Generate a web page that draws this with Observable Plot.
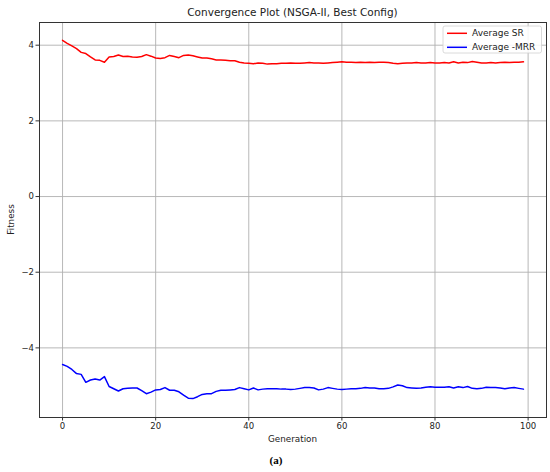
<!DOCTYPE html>
<html>
<head>
<meta charset="utf-8">
<script src="https://cdn.jsdelivr.net/npm/d3@7"></script>
<script src="https://cdn.jsdelivr.net/npm/@observablehq/plot@0.6"></script>
<style>
  html, body { margin: 0; padding: 0; background: #fff; }
  #chart { width: 550px; height: 472px; }
  svg text { font-family: "DejaVu Sans", sans-serif; }
</style>
</head>
<body>
<div id="chart"></div>
<script>
const titleText = "Convergence Plot (NSGA-II, Best Config)";
const xLabel = "Generation";
const yLabel = "Fitness";
const caption = "(a)";
const seriesNames = ["Average SR", "Average -MRR"];
const seriesColors = ["#ff0000", "#0000ff"];
const xTicks = [0, 20, 40, 60, 80, 100];
const yTicks = [-4, -2, 0, 2, 4];

const generations = Array.from({length: 100}, (_, i) => i);

const averageSR = [
  4.13, 4.05, 3.98, 3.91, 3.81, 3.78, 3.69, 3.61, 3.60, 3.55,
  3.69, 3.70, 3.74, 3.70, 3.71, 3.69, 3.68, 3.70, 3.75, 3.71,
  3.66, 3.65, 3.67, 3.73, 3.70, 3.67, 3.73, 3.74, 3.72, 3.69,
  3.66, 3.66, 3.64, 3.61, 3.61, 3.60, 3.59, 3.59, 3.55, 3.53,
  3.52, 3.51, 3.53, 3.52, 3.50, 3.51, 3.51, 3.52, 3.52, 3.53,
  3.52, 3.52, 3.53, 3.54, 3.53, 3.53, 3.52, 3.53, 3.54, 3.55,
  3.56, 3.55, 3.55, 3.54, 3.55, 3.54, 3.55, 3.54, 3.55, 3.55,
  3.54, 3.52, 3.51, 3.52, 3.53, 3.53, 3.54, 3.53, 3.53, 3.54,
  3.53, 3.53, 3.54, 3.53, 3.56, 3.53, 3.55, 3.54, 3.57, 3.55,
  3.53, 3.53, 3.54, 3.53, 3.54, 3.55, 3.54, 3.55, 3.55, 3.56
];

const averageNegMRR = [
  -4.44, -4.49, -4.57, -4.68, -4.70, -4.91, -4.85, -4.82, -4.85, -4.76,
  -5.02, -5.08, -5.14, -5.08, -5.07, -5.06, -5.06, -5.13, -5.21, -5.17,
  -5.11, -5.10, -5.05, -5.12, -5.12, -5.16, -5.25, -5.33, -5.34, -5.29,
  -5.23, -5.21, -5.21, -5.15, -5.12, -5.12, -5.11, -5.10, -5.05, -5.08,
  -5.11, -5.06, -5.11, -5.09, -5.08, -5.08, -5.08, -5.09, -5.09, -5.10,
  -5.09, -5.07, -5.05, -5.05, -5.06, -5.11, -5.09, -5.05, -5.07, -5.09,
  -5.10, -5.09, -5.08, -5.08, -5.07, -5.05, -5.06, -5.06, -5.08, -5.08,
  -5.07, -5.03, -4.98, -5.00, -5.05, -5.06, -5.07, -5.06, -5.04, -5.03,
  -5.04, -5.04, -5.04, -5.03, -5.06, -5.03, -5.05, -5.02, -5.07, -5.08,
  -5.07, -5.04, -5.05, -5.05, -5.06, -5.08, -5.06, -5.05, -5.07, -5.09
];

const rows = [];
generations.forEach((g, i) => {
  rows.push({gen: g, value: averageSR[i], series: seriesNames[0]});
});
generations.forEach((g, i) => {
  rows.push({gen: g, value: averageNegMRR[i], series: seriesNames[1]});
});

const W = 550, H = 472;
const mT = 22, mR = 4, mB = 55, mL = 39;

const chart = Plot.plot({
  width: W,
  height: H,
  marginTop: mT,
  marginRight: mR,
  marginBottom: mB,
  marginLeft: mL,
  style: {fontFamily: "DejaVu Sans, sans-serif", background: "#fff", color: "#222"},
  x: {domain: [-4.95, 103.95], label: null},
  y: {domain: [-5.84, 4.6], label: null},
  color: {domain: seriesNames, range: seriesColors},
  marks: [
    Plot.gridX(xTicks, {stroke: "#b0b0b0", strokeOpacity: 1, strokeWidth: 0.9}),
    Plot.gridY(yTicks, {stroke: "#b0b0b0", strokeOpacity: 1, strokeWidth: 0.9}),
    Plot.line(rows, {x: "gen", y: "value", z: "series", stroke: "series", strokeWidth: 1.5}),
    Plot.frame({stroke: "#333", strokeWidth: 1}),
    Plot.axisX(xTicks, {tickSize: 3.5, tickPadding: 2, fontSize: 8.5, stroke: "#333"}),
    Plot.axisY(yTicks, {tickSize: 3.5, tickPadding: 2, fontSize: 8.5, stroke: "#333"})
  ]
});

document.getElementById("chart").appendChild(chart);

const svg = d3.select(chart);
const cx = mL + (W - mL - mR) / 2;
const cy = mT + (H - mT - mB) / 2;

svg.append("text")
  .attr("x", cx).attr("y", 16)
  .attr("text-anchor", "middle")
  .attr("font-size", 10.5)
  .attr("fill", "#222")
  .text(titleText);

svg.append("text")
  .attr("x", cx).attr("y", 442)
  .attr("text-anchor", "middle")
  .attr("font-size", 8.8)
  .attr("fill", "#222")
  .text(xLabel);

svg.append("text")
  .attr("transform", `translate(14,${cy}) rotate(-90)`)
  .attr("text-anchor", "middle")
  .attr("font-size", 8.8)
  .attr("fill", "#222")
  .text(yLabel);

svg.append("text")
  .attr("x", 276).attr("y", 464)
  .attr("text-anchor", "middle")
  .attr("font-size", 11)
  .attr("font-weight", "bold")
  .style("font-family", "Liberation Serif, serif")
  .attr("fill", "#000")
  .text(caption);

const lg = svg.append("g");
lg.append("rect")
  .attr("x", 443).attr("y", 26).attr("width", 98.5).attr("height", 27)
  .attr("rx", 2)
  .attr("fill", "#fff").attr("fill-opacity", 0.85)
  .attr("stroke", "#d0d0d0").attr("stroke-width", 0.8);
seriesNames.forEach((name, i) => {
  const yy = 33.3 + i * 14;
  lg.append("line")
    .attr("x1", 447).attr("x2", 467).attr("y1", yy).attr("y2", yy)
    .attr("stroke", seriesColors[i]).attr("stroke-width", 1.5);
  lg.append("text")
    .attr("x", 472).attr("y", yy)
    .attr("dy", "0.35em")
    .attr("text-anchor", "start")
    .attr("font-size", 9)
    .attr("fill", "#222")
    .text(name);
});
</script>
</body>
</html>
